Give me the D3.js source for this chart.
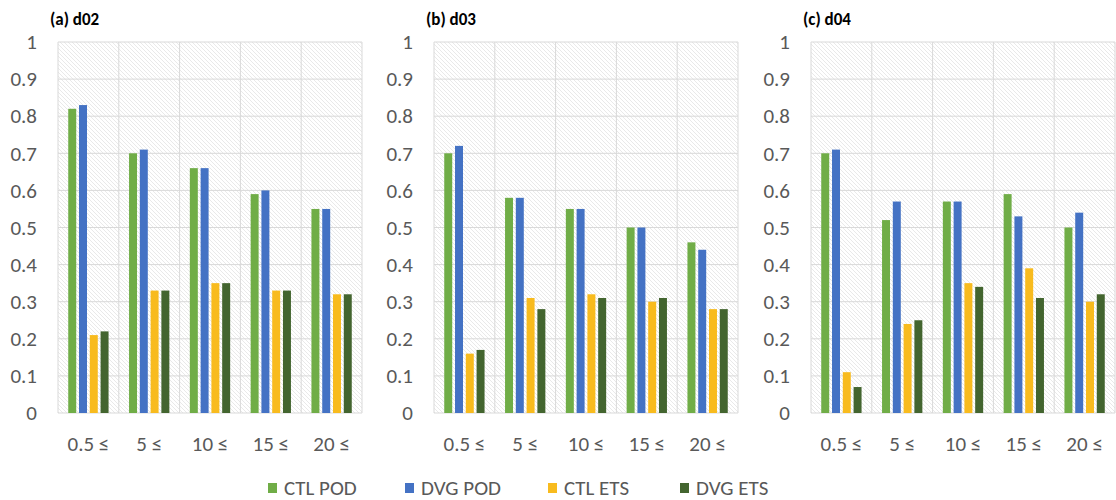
<!DOCTYPE html>
<html lang="en">
<head>
<meta charset="UTF-8">
<script src="https://cdn.jsdelivr.net/npm/d3@7/dist/d3.min.js"></script>
<title>POD / ETS</title>
<style>
    body, html { margin: 0; padding: 0; background: #fff; }
    svg { display: block; }
    text { font-family: Carlito, Lato, "DejaVu Sans Condensed", sans-serif; }
</style>
</head>
<body>
<div id="chart"></div>
<script>

// data
const categories = ["0.5 ≤", "5 ≤", "10 ≤", "15 ≤", "20 ≤"]
const seriesNames = ["CTL POD", "DVG POD", "CTL ETS", "DVG ETS"]
const panelTitles = ["(a) d02", "(b) d03", "(c) d04"]
const yTicks = [0, 0.1, 0.2, 0.3, 0.4, 0.5, 0.6, 0.7, 0.8, 0.9, 1]

// d02
const d02_ctl_pod = [0.82, 0.70, 0.66, 0.59, 0.55]
const d02_dvg_pod = [0.83, 0.71, 0.66, 0.60, 0.55]
const d02_ctl_ets = [0.21, 0.33, 0.35, 0.33, 0.32]
const d02_dvg_ets = [0.22, 0.33, 0.35, 0.33, 0.32]
// d03
const d03_ctl_pod = [0.70, 0.58, 0.55, 0.50, 0.46]
const d03_dvg_pod = [0.72, 0.58, 0.55, 0.50, 0.44]
const d03_ctl_ets = [0.16, 0.31, 0.32, 0.30, 0.28]
const d03_dvg_ets = [0.17, 0.28, 0.31, 0.31, 0.28]
// d04
const d04_ctl_pod = [0.70, 0.52, 0.57, 0.59, 0.50]
const d04_dvg_pod = [0.71, 0.57, 0.57, 0.53, 0.54]
const d04_ctl_ets = [0.11, 0.24, 0.35, 0.39, 0.30]
const d04_dvg_ets = [0.07, 0.25, 0.34, 0.31, 0.32]

const panels = [
    [d02_ctl_pod, d02_dvg_pod, d02_ctl_ets, d02_dvg_ets],
    [d03_ctl_pod, d03_dvg_pod, d03_ctl_ets, d03_dvg_ets],
    [d04_ctl_pod, d04_dvg_pod, d04_ctl_ets, d04_dvg_ets],
]

const colors = ["#70ad47", "#4472c4", "#f8bb1e", "#43652f"]

const width = 1116, height = 500
// plot area of each panel (left edge), shared top/bottom
const plotLeft = [58, 434, 811]
const plotW = 304
const plotTop = 42, plotBottom = 413

const svg = d3.select("#chart").append("svg").attr("width", width).attr("height", height)

// hatched background
const pat = svg.append("defs").append("pattern")
    .attr("id", "hatch").attr("patternUnits", "userSpaceOnUse")
    .attr("width", 4).attr("height", 4)
pat.append("rect").attr("width", 4).attr("height", 4).attr("fill", "#fff")
pat.append("path").attr("d", "M-1,-1 L5,5 M-1,3 L1,5 M3,-1 L5,1")
    .attr("stroke", "#e3e3e3").attr("stroke-width", 0.8)

const y = d3.scaleLinear().domain([0, 1]).range([plotBottom, plotTop])

panels.forEach((series, pi) => {
    const g = svg.append("g").attr("transform", `translate(${plotLeft[pi]},0)`)

    const x0 = d3.scaleBand().domain(categories).range([0, plotW]).padding(0)
    const x1 = d3.scaleBand().domain(seriesNames).range([0, x0.bandwidth()])
        .paddingInner(0.26).paddingOuter(0.95)

    g.append("rect").attr("x", 0).attr("y", plotTop)
        .attr("width", plotW).attr("height", plotBottom - plotTop)
        .attr("fill", "url(#hatch)")

    // horizontal grid
    g.append("g").selectAll("line").data(yTicks).enter().append("line")
        .attr("x1", 0).attr("x2", plotW)
        .attr("y1", d => y(d)).attr("y2", d => y(d))
        .attr("stroke", "#d9d9d9").attr("stroke-width", 1)

    // vertical grid at category boundaries
    const bounds = categories.map(c => x0(c)).concat([plotW])
    g.append("g").selectAll("line").data(bounds).enter().append("line")
        .attr("x1", d => d).attr("x2", d => d)
        .attr("y1", plotTop).attr("y2", plotBottom)
        .attr("stroke", "#d9d9d9").attr("stroke-width", 1)

    // bars
    seriesNames.forEach((name, si) => {
        g.append("g").selectAll("rect").data(series[si]).enter().append("rect")
            .attr("x", (d, i) => x0(categories[i]) + x1(name))
            .attr("width", x1.bandwidth())
            .attr("y", d => y(d))
            .attr("height", d => y(0) - y(d))
            .attr("fill", colors[si])
    })

    // y tick labels
    const yAxis = d3.axisLeft(y).tickValues(yTicks).tickSize(0).tickPadding(21)
        .tickFormat(d => d3.format("")(+d.toFixed(1)))
    const ya = g.append("g").call(yAxis)
    ya.select(".domain").remove()
    ya.selectAll("text").attr("font-size", 21).attr("fill", "#595959")

    // x tick labels
    const xAxis = d3.axisBottom(x0).tickSize(0).tickPadding(23)
    const xa = g.append("g").attr("transform", `translate(0,${plotBottom})`).call(xAxis)
    xa.select(".domain").remove()
    xa.selectAll("text").attr("font-size", 21).attr("fill", "#595959")

    // panel title
    g.append("text").attr("x", -8).attr("y", 25)
        .attr("font-size", 17).attr("font-weight", "bold").attr("fill", "#000")
        .text(panelTitles[pi])
})

// legend
const legendX = [268, 405, 548, 680]
const lg = svg.append("g").selectAll("g").data(seriesNames).enter().append("g")
    .attr("transform", (d, i) => `translate(${legendX[i]},488)`)
lg.append("rect").attr("x", 0).attr("y", -5).attr("width", 9).attr("height", 10)
    .attr("fill", (d, i) => colors[i])
lg.append("text").attr("x", 16).attr("y", 7).attr("font-size", 21).attr("fill", "#595959")
    .text(d => d)

</script>
</body>
</html>
